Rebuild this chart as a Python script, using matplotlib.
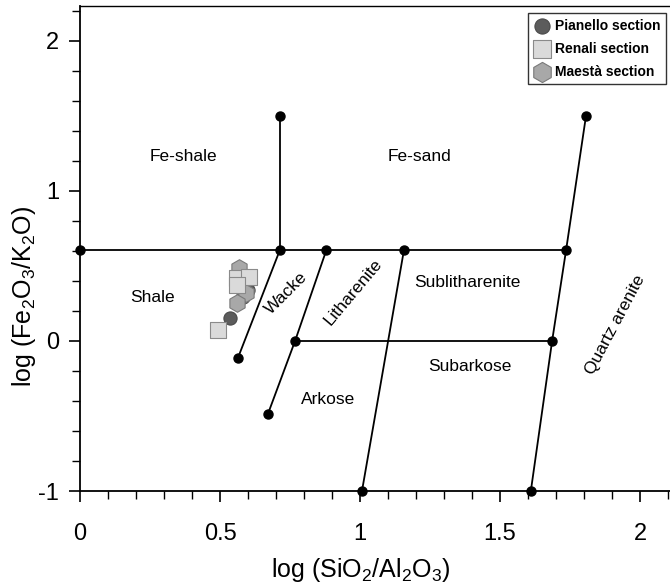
import matplotlib
matplotlib.use("Agg")
import matplotlib.pyplot as plt
from matplotlib.ticker import MultipleLocator

plt.rcParams['font.family'] = ['Liberation Sans', 'DejaVu Sans']
plt.rcParams['mathtext.fontset'] = 'custom'
plt.rcParams['mathtext.rm'] = 'Liberation Sans'
plt.rcParams['mathtext.it'] = 'Liberation Sans'

# ---- data ----
pianello_x = [0.601, 0.577, 0.583, 0.536]
pianello_y = [0.340, 0.340, 0.296, 0.151]

renali_x = [0.562, 0.605, 0.562, 0.494]
renali_y = [0.420, 0.429, 0.373, 0.073]

maesta_x = [0.568, 0.593, 0.559]
maesta_y = [0.489, 0.318, 0.251]

# classification boundaries (Herron 1988)
boundary_lines = [
    ([0.0, 1.736], [0.607, 0.607]),          # Fe / non-Fe split
    ([0.714, 0.714], [0.607, 1.500]),        # Fe-shale / Fe-sand
    ([0.564, 0.714], [-0.113, 0.607]),       # Shale / Wacke
    ([0.671, 0.768, 0.880], [-0.487, 0.0, 0.607]),  # Wacke / Litharenite-Arkose
    ([0.768, 1.686], [0.0, 0.0]),            # Sublitharenite / Subarkose
    ([1.007, 1.157], [-1.0, 0.607]),         # Litharenite / Sublitharenite
    ([1.610, 1.686, 1.736, 1.807], [-1.0, 0.0, 0.607, 1.500]),  # Quartz arenite
]
node_x = [0.0, 0.714, 0.880, 1.157, 1.736, 0.714, 0.564, 0.671, 0.768, 1.686, 1.007, 1.610, 1.807]
node_y = [0.607, 0.607, 0.607, 0.607, 0.607, 1.500, -0.113, -0.487, 0.0, 0.0, -1.0, -1.0, 1.500]

region_labels = ["Fe-shale", "Fe-sand", "Shale", "Wacke", "Litharenite",
                 "Sublitharenite", "Subarkose", "Arkose", "Quartz arenite"]
label_x = [0.368, 1.214, 0.26, 0.738, 0.976, 1.382, 1.393, 0.886, 1.911]
label_y = [1.227, 1.227, 0.287, 0.318, 0.329, 0.393, -0.167, -0.393, 0.107]
label_rot = [0, 0, 0, 45, 50, 0, 0, 0, 62]

x_label = 'log (SiO$_2$/Al$_2$O$_3$)'
y_label = 'log (Fe$_2$O$_3$/K$_2$O)'

# ---- figure ----
fig = plt.figure(figsize=(6.7, 5.85), dpi=100)
ax = fig.add_axes([80/670, 94/585, 590/670, 485/585])
ax.set_xlim(0, 2.107)
ax.set_ylim(-1, 2.233)

for xs, ys in boundary_lines:
    ax.plot(xs, ys, color='black', lw=1.3, zorder=2, solid_capstyle='butt')
ax.plot(node_x, node_y, 'o', color='black', ms=6.5, zorder=3, clip_on=False)

ax.scatter(pianello_x, pianello_y, marker='o', s=90, facecolor='#5c5c5c',
           edgecolor='#4a4a4a', lw=0.8, zorder=4, label='Pianello section')
ax.scatter(maesta_x, maesta_y, marker='h', s=160, facecolor='#a8a8a8',
           edgecolor='#7a7a7a', lw=0.8, zorder=5, label='Maestà section')
ax.scatter(renali_x, renali_y, marker='s', s=120, facecolor='#dadada',
           edgecolor='#8a8a8a', lw=0.8, zorder=6, label='Renali section')

for t, x, y, r in zip(region_labels, label_x, label_y, label_rot):
    ax.text(x, y, t, ha='center', va='center', rotation=r, fontsize=12.5,
            rotation_mode='anchor', zorder=7)

handles, labels = ax.get_legend_handles_labels()
order = [0, 2, 1]
leg = ax.legend([handles[i] for i in order], [labels[i] for i in order],
                loc='upper right', bbox_to_anchor=(666/670, 572/585),
                bbox_transform=fig.transFigure, frameon=True, fancybox=False,
                edgecolor='black', fontsize=10, handletextpad=0.25,
                borderpad=0.4, labelspacing=0.65, handlelength=1.3,
                borderaxespad=0, markerscale=1.15)
leg.get_frame().set_linewidth(1.0)
for txt in leg.get_texts():
    txt.set_fontweight('bold')

ax.spines['right'].set_visible(False)
for s in ['left', 'bottom']:
    ax.spines[s].set_linewidth(1.3)
ax.spines['top'].set_linewidth(1.0)

ax.xaxis.set_minor_locator(MultipleLocator(0.1))
ax.yaxis.set_minor_locator(MultipleLocator(0.2))
ax.set_xticks([0, 0.5, 1, 1.5, 2])
ax.set_xticklabels(['0', '0.5', '1', '1.5', '2'])
ax.set_yticks([-1, 0, 1, 2])
ax.set_yticklabels(['-1', '0', '1', '2'])
ax.tick_params(axis='both', which='major', labelsize=17, direction='out',
               length=8, width=1.2)
ax.tick_params(axis='both', which='minor', direction='out', length=6, width=1.0)
ax.tick_params(axis='x', which='major', pad=15)
ax.tick_params(axis='y', which='major', pad=7)
ax.tick_params(top=False, right=False, which='both')

fig.text(361/670, 1 - 570/585, x_label, ha='center', va='center', fontsize=18)
fig.text(24/670, 1 - 296/585, y_label, ha='center', va='center', fontsize=18,
         rotation=90)

fig.savefig('out.png', dpi=100)
